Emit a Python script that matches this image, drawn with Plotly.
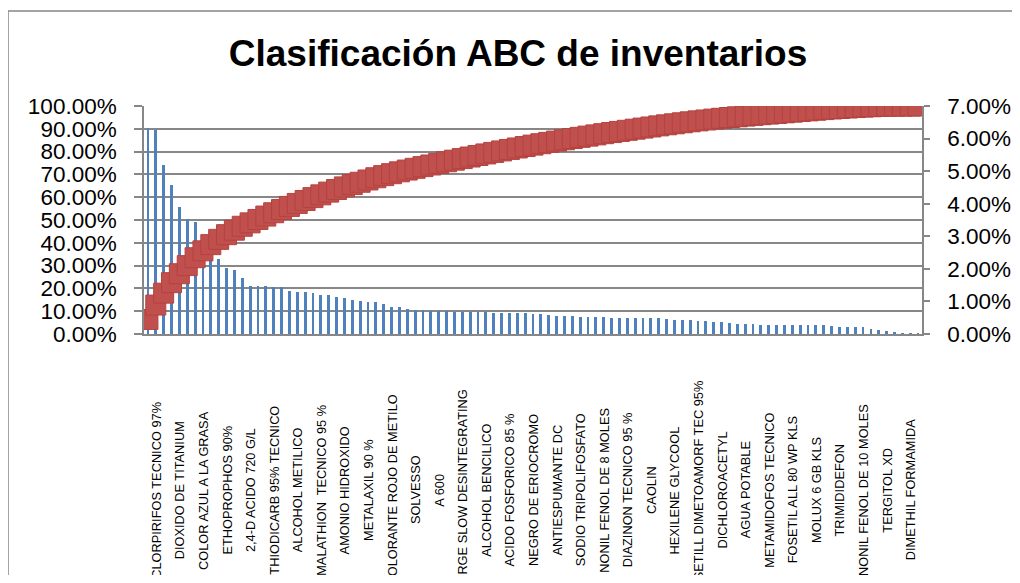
import numpy as np
import plotly.graph_objects as go

# Share of total inventory value per item (percent), in ABC order (rank 1..99)
item_share_pct = [
    6.34, 6.26, 5.18, 4.57, 3.89, 3.53, 3.43, 3.00, 2.70, 2.30,
    2.04, 1.95, 1.71, 1.48, 1.48, 1.48, 1.44, 1.44, 1.32, 1.30,
    1.28, 1.25, 1.21, 1.19, 1.14, 1.12, 1.03, 1.00, 0.99, 0.97,
    0.92, 0.84, 0.82, 0.77, 0.75, 0.74, 0.71, 0.71, 0.70, 0.69,
    0.69, 0.68, 0.67, 0.67, 0.66, 0.65, 0.65, 0.63, 0.63, 0.62,
    0.61, 0.59, 0.56, 0.56, 0.54, 0.53, 0.53, 0.53, 0.52, 0.50,
    0.49, 0.49, 0.49, 0.48, 0.48, 0.48, 0.46, 0.44, 0.44, 0.43,
    0.41, 0.39, 0.37, 0.36, 0.34, 0.31, 0.31, 0.31, 0.28, 0.28,
    0.28, 0.28, 0.28, 0.28, 0.28, 0.28, 0.28, 0.25, 0.22, 0.21,
    0.20, 0.20, 0.15, 0.13, 0.10, 0.04, 0.03, 0.02, 0.01,
]
item_rank = list(range(1, len(item_share_pct) + 1))

# Category labels shown on the axis (every third item)
label_ranks = [2, 5, 8, 11, 14, 17, 20, 23, 26, 29, 32, 35, 38, 41, 44, 47, 50,
               53, 56, 59, 62, 65, 68, 71, 74, 77, 80, 83, 86, 89, 92, 95, 98]
label_names = [
    "CLORPIRIFOS TECNICO 97%", "DIOXIDO DE TITANIUM", "COLOR AZUL A LA GRASA",
    "ETHOPROPHOS 90%", "2,4-D ACIDO 720 G/L", "THIODICARB 95% TECNICO",
    "ALCOHOL METILICO", "MALATHION  TECNICO 95 %", "AMONIO HIDROXIDO",
    "METALAXIL 90 %", "COLORANTE ROJO DE METILO", "SOLVESSO", "A 600",
    "LARGE SLOW DESINTEGRATING", "ALCOHOL BENCILICO", "ACIDO FOSFORICO 85 %",
    "NEGRO DE ERIOCROMO", "ANTIESPUMANTE DC", "SODIO TRIPOLIFOSFATO",
    "NONIL FENOL DE 8 MOLES", "DIAZINON TECNICO 95 %", "CAOLIN",
    "HEXILENE GLYCOOL", "FOSETILL DIMETOAMORF TEC 95%", "DICHLOROACETYL",
    "AGUA POTABLE", "METAMIDOFOS TECNICO", "FOSETIL ALL 80 WP KLS",
    "MOLUX 6 GB KLS", "TRIMIDIDEFON", "NONIL FENOL DE 10 MOLES",
    "TERGITOL XD", "DIMETHIL FORMAMIDA",
]

share = np.array(item_share_pct) / 100.0
cumulative = np.cumsum(share) / share.sum()

GRID = "#878787"
FONT = "Liberation Sans"

fig = go.Figure()
fig.add_trace(go.Bar(
    x=item_rank, y=share, yaxis="y", xaxis="x",
    marker=dict(color="#4F81BD", line=dict(width=0)),
    width=0.36, name="% individual",
))
fig.add_trace(go.Scatter(
    x=item_rank, y=cumulative, yaxis="y2", xaxis="x",
    mode="markers", name="% acumulado",
    marker=dict(symbol="square", size=20, color="#C0504D",
                line=dict(color="#B5423F", width=1)),
))

# page is offset by the 8px body margin; figure geometry compensates
W, H = 1004, 567
L, R, T, B = 136, 90, 98, 241
pw, ph = W - L - R, H - T - B

annotations = []
for r, name in zip(label_ranks, label_names):
    annotations.append(dict(
        x=r, xref="x", y=(ph + T - 482) / ph, yref="paper", text=name,
        showarrow=False, textangle=-90, xanchor="center", yanchor="middle",
        font=dict(family=FONT, size=12.8, color="black"),
    ))

fig.update_layout(
    width=W, height=H, autosize=False,
    margin=dict(l=L, r=R, t=T, b=B, pad=0),
    paper_bgcolor="white", plot_bgcolor="white",
    showlegend=False,
    bargap=0,
    title=dict(text="<b>Clasificación ABC de inventarios</b>",
               x=510 / W, xref="container", xanchor="center",
               y=1 - 45 / H, yref="container", yanchor="middle",
               font=dict(family=FONT, size=37, color="black")),
    xaxis=dict(range=[0.5, len(item_rank) + 0.5], showticklabels=False,
               showgrid=False, zeroline=False, showline=True,
               linecolor=GRID, linewidth=1.6, ticks="", automargin=False),
    yaxis=dict(side="right", range=[0, 0.07],
               tickvals=[0, 0.01, 0.02, 0.03, 0.04, 0.05, 0.06, 0.07],
               tickformat=".2%", showgrid=False, zeroline=False,
               showline=True, linecolor=GRID, linewidth=1.6,
               ticks="outside", ticklen=6, tickcolor=GRID, tickwidth=1.5,
               ticklabelstandoff=13,
               tickfont=dict(family=FONT, size=22.5, color="black"),
               automargin=False),
    yaxis2=dict(overlaying="y", side="left", range=[0, 1],
                tickvals=[0, 0.1, 0.2, 0.3, 0.4, 0.5, 0.6, 0.7, 0.8, 0.9, 1.0],
                tickformat=".2%", showgrid=True, gridcolor=GRID, gridwidth=1.6,
                zeroline=False, showline=True, linecolor=GRID, linewidth=1.6,
                ticks="outside", ticklen=8, tickcolor=GRID, tickwidth=1.5,
                ticklabelstandoff=13,
                tickfont=dict(family=FONT, size=22.5, color="black"),
                automargin=False),
    annotations=annotations,
    shapes=[dict(type="rect", xref="paper", yref="paper",
                 x0=(0 - L) / pw, x1=(W + 20 - L) / pw,
                 y0=(ph + T - (H + 30)) / ph, y1=(ph + T - 3) / ph,
                 line=dict(color=GRID, width=1.5), fillcolor="rgba(0,0,0,0)",
                 layer="below")],
)

fig.write_html("out.html")
